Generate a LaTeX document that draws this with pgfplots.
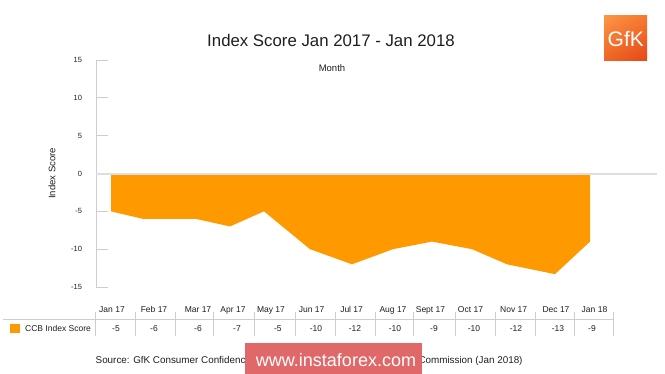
\documentclass[border=0pt]{standalone}
\usepackage{pgfplots}
\pgfplotsset{compat=1.18}
\usetikzlibrary{shadings}
\usepackage{fontspec}
\setmainfont{Liberation Sans}
\definecolor{ccb}{RGB}{255,153,0}
\definecolor{axgray}{RGB}{205,205,205}
\definecolor{zerogray}{RGB}{222,222,222}
\definecolor{wm}{RGB}{224,104,104}
\definecolor{txt}{RGB}{30,30,30}
\definecolor{gfkA}{RGB}{252,150,70}
\definecolor{gfkB}{RGB}{245,120,45}
\definecolor{gfkC}{RGB}{238,100,35}
\definecolor{gfkD}{RGB}{228,72,25}
\begin{document}
\begin{tikzpicture}
\path[use as bounding box] (0pt,0pt) rectangle (665pt,-374pt);
\begin{axis}[
  at={(96pt,-287pt)}, anchor=south west,
  scale only axis, width=561pt, height=227pt,
  xmin=96, xmax=657, ymin=-15, ymax=15,
  axis y line*=left, axis x line*=bottom,
  x axis line style={draw=none},
  y axis line style={draw=axgray, line width=0.8pt},
  ytick={-15,-10,...,15},
  ytick align=inside, major tick length=12pt,
  ytick style={draw=axgray, line width=0.8pt},
  xtick style={draw=none},
  xtick={112,154,198,233,271,311.6,351.6,393,430.5,470.5,513.7,556,594.5},
  xticklabels={Jan 17,Feb 17,Mar 17,Apr 17,May 17,Jun 17,Jul 17,Aug 17,Sept 17,Oct 17,Nov 17,Dec 17,Jan 18},
  xticklabel style={anchor=base, yshift=-26pt, font=\fontsize{8.5}{10}\selectfont, text=txt},
  yticklabel style={font=\fontsize{7.5}{8}\selectfont, text=txt, xshift=-10.4pt},
  /pgf/number format/assume math mode=true,
  ylabel={Index Score},
  ylabel style={at={(axis description cs:-0.0784,0.5)}, anchor=center, font=\fontsize{9.5}{11}\selectfont, text=txt},
  clip=false,
]
\addplot[fill=ccb, draw=none] coordinates {
  (111,-5) (143,-6) (196,-6) (230,-7) (264,-5) (310,-10) (352,-12)
  (393,-10) (432,-9) (472,-10) (507,-12) (555,-13.3) (590,-9)
} \closedcycle;
\draw[zerogray, line width=2pt] (axis cs:96,0) -- (axis cs:657,0);
\end{axis}
\begin{scope}[x=1pt,y=-1pt]
  \node[font=\fontsize{16.8}{20}\selectfont, text=txt] at (331,40) {Index Score Jan 2017 - Jan 2018};
  \node[font=\fontsize{9.5}{11}\selectfont, text=txt] at (332,68) {Month};
  % table
  \draw[axgray, line width=0.6pt] (3,319) -- (613.3,319);
  \foreach \x in {95,135,175,213.3,254.5,294.8,335,375.3,413.5,455,495,535,574,613.3}
    \draw[axgray, line width=0.6pt] (\x,312) -- (\x,336);
  \fill[ccb] (10,324) rectangle (19.5,333.5);
  \node[anchor=base west, inner sep=0pt, font=\fontsize{8.5}{10}\selectfont, text=txt] at (25,332) {CCB Index Score};
  \foreach \x/\v in {116/-5,154/-6,198/-6,237/-7,277.8/-5,316/-10,355/-12,395/-10,434/-9,474/-10,516/-12,558/-13,592/-9}
    \node[anchor=base, inner sep=0pt, font=\fontsize{8.5}{10}\selectfont, text=txt] at (\x,332) {\v};
  % source
  \node[anchor=base west, inner sep=0pt, font=\fontsize{9.85}{11}\selectfont, text=txt] at (95.5,364) {Source: GfK Consumer Confidence Barometer on behalf of the European Commission (Jan 2018)};
  % watermark
  \fill[wm] (245,343) rectangle (422,374);
  \node[anchor=base, inner sep=0pt, font=\fontsize{18}{20}\selectfont, text=white] at (336,367) {www.instaforex.com};
  % logo
  \shade[upper left=gfkA, upper right=gfkB, lower left=gfkC, lower right=gfkD] (604,16) rectangle (647,61);
  \node[anchor=base, inner sep=0pt, font=\fontsize{21}{24}\selectfont, text=white] at (625.8,46.5) {GfK};
\end{scope}
\end{tikzpicture}
\end{document}
